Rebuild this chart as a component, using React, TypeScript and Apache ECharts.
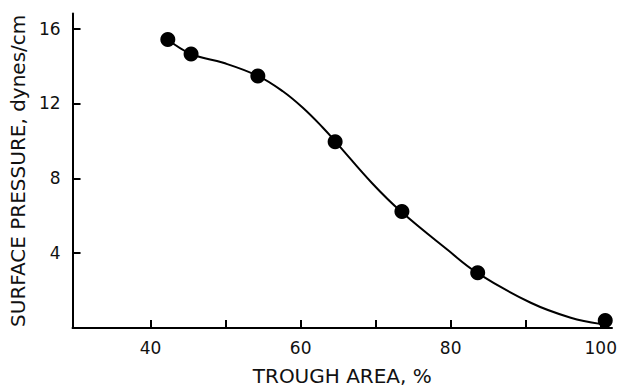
import React, { useEffect, useRef } from "react";
import * as echarts from "echarts";

// measured data points
const troughArea: number[] = [42.3, 45.4, 54.3, 64.6, 73.5, 83.6, 100.6];
const surfacePressure: number[] = [15.42, 14.64, 13.46, 9.95, 6.22, 2.95, 0.4];

// hand-drawn fitted curve
const curveX: number[] = [
  42.29, 45.42, 49.69, 54.35, 57.62, 60.26, 62.91, 64.67, 69.5, 73.39, 79.66,
  83.53, 90.67, 96.0, 99.92,
];
const curveY: number[] = [
  15.42, 14.64, 14.17, 13.46, 12.65, 11.78, 10.73, 9.95, 7.75, 6.22, 4.15, 2.95,
  1.35, 0.55, 0.22,
];

const xTickValues: number[] = [40, 50, 60, 70, 80, 90, 100];
const xLabelValues: number[] = [40, 60, 80, 100];
const yTickValues: number[] = [4, 8, 12, 16];

const FONT = "DejaVu Sans";

export default function App() {
  const ref = useRef<HTMLDivElement>(null);
  useEffect(() => {
    if (!ref.current) return;
    const chart = echarts.init(ref.current, null, { renderer: "svg" });
    const points = troughArea.map((x, i) => [x, surfacePressure[i]]);
    const curve = curveX.map((x, i) => [x, curveY[i]]);
    chart.setOption({
      animation: false,
      backgroundColor: "#ffffff",
      grid: { left: 68, right: 13, top: 13.6, bottom: 55 },
      xAxis: {
        type: "value",
        min: 29.6,
        max: 101.5,
        name: "TROUGH AREA, %",
        nameLocation: "middle",
        nameGap: 38,
        nameTextStyle: { fontFamily: FONT, fontSize: 20, color: "#111" },
        axisLine: { show: true, lineStyle: { color: "#000", width: 2 } },
        axisTick: {
          show: true,
          inside: true,
          length: 8,
          customValues: xTickValues,
          lineStyle: { color: "#000", width: 2 },
        },
        axisLabel: {
          customValues: xLabelValues,
          margin: 11,
          fontFamily: FONT,
          fontSize: 17,
          color: "#111",
        },
        splitLine: { show: false },
      },
      yAxis: {
        type: "value",
        min: 0,
        max: 16.8,
        name: "SURFACE PRESSURE, dynes/cm",
        nameLocation: "middle",
        nameRotate: 90,
        nameGap: 36,
        nameTextStyle: { fontFamily: FONT, fontSize: 20, color: "#111" },
        axisLine: { show: true, lineStyle: { color: "#000", width: 2 } },
        axisTick: {
          show: true,
          inside: true,
          length: 8,
          customValues: yTickValues,
          lineStyle: { color: "#000", width: 2 },
        },
        axisLabel: {
          customValues: yTickValues,
          margin: 12,
          fontFamily: FONT,
          fontSize: 17,
          color: "#111",
        },
        splitLine: { show: false },
      },
      series: [
        {
          type: "line",
          data: curve,
          smooth: 0.4,
          symbol: "none",
          lineStyle: { color: "#000", width: 2 },
          z: 2,
        },
        {
          type: "scatter",
          data: points,
          symbol: "circle",
          symbolSize: 15,
          itemStyle: { color: "#000", opacity: 1 },
          z: 3,
        },
      ],
    });
    return () => chart.dispose();
  }, []);
  return (
    <div
      ref={ref}
      style={{ position: "fixed", left: 0, top: 0, width: 625, height: 391 }}
    />
  );
}
